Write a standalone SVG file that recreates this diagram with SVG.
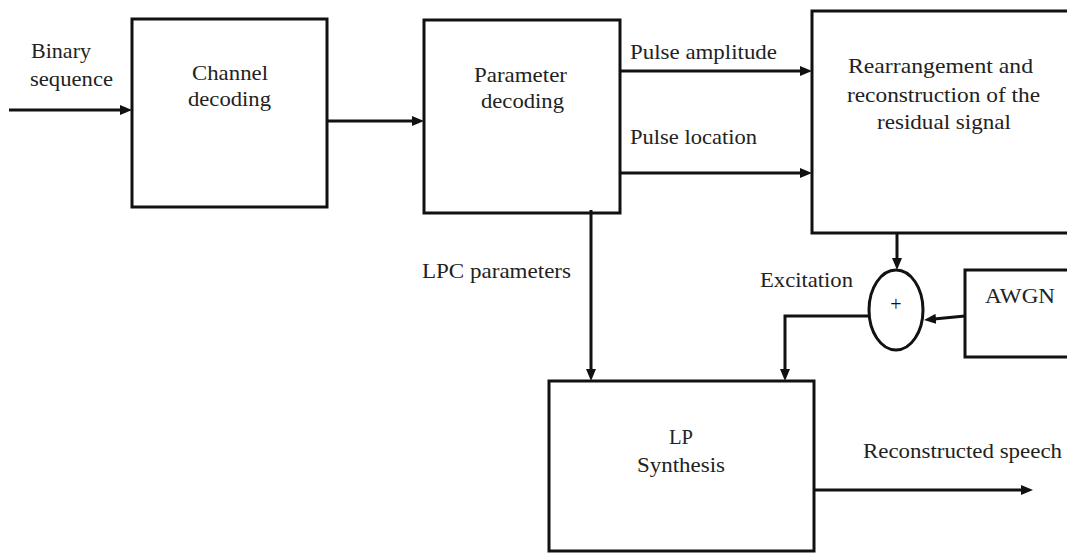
<svg xmlns="http://www.w3.org/2000/svg" width="1067" height="554" viewBox="0 0 1067 554">
<style>
.box{fill:none;stroke:#111;stroke-width:3}
.ln{fill:none;stroke:#111;stroke-width:3}
.arr{marker-end:url(#ah)}
text{font-family:"Liberation Serif","Times New Roman",serif;font-size:22px;fill:#222}
</style>
<defs>
<marker id="ah" viewBox="0 0 12 10" markerWidth="12" markerHeight="10" markerUnits="userSpaceOnUse" refX="2" refY="5" orient="auto">
<path d="M0,0 L12,5 L0,10 z" fill="#111"/>
</marker>
</defs>
<rect width="1067" height="554" fill="#fff"/>
<g id="connectors">
<path class="ln arr" d="M9,110 H122"/>
<path class="ln arr" d="M327,121 H414"/>
<path class="ln arr" d="M620,71 H802"/>
<path class="ln arr" d="M620,173 H802"/>
<path class="ln arr" d="M591,210 V371"/>
<path class="ln arr" d="M897,233 V260"/>
<path class="ln arr" d="M965,316 L934,319"/>
<path class="ln arr" d="M868,316 H785 V371"/>
<path class="ln arr" d="M814,490 H1023"/>
</g>
<g id="labels">
<text x="31" y="58" textLength="60" lengthAdjust="spacingAndGlyphs">Binary</text>
<text x="30" y="86" textLength="83" lengthAdjust="spacingAndGlyphs">sequence</text>
<text x="630" y="59" textLength="147" lengthAdjust="spacingAndGlyphs">Pulse amplitude</text>
<text x="630" y="144" textLength="127" lengthAdjust="spacingAndGlyphs">Pulse location</text>
<text x="422" y="278" textLength="149" lengthAdjust="spacingAndGlyphs">LPC parameters</text>
<text x="760" y="287" textLength="93" lengthAdjust="spacingAndGlyphs">Excitation</text>
<text x="863" y="458" textLength="199" lengthAdjust="spacingAndGlyphs">Reconstructed speech</text>
</g>
<g id="channel-decoding">
<rect class="box" x="132" y="19" width="195" height="188"/>
<text x="192" y="80" textLength="76" lengthAdjust="spacingAndGlyphs">Channel</text>
<text x="188" y="106" textLength="83" lengthAdjust="spacingAndGlyphs">decoding</text>
</g>
<g id="parameter-decoding">
<rect class="box" x="424" y="20" width="196" height="193"/>
<text x="474" y="82" textLength="93" lengthAdjust="spacingAndGlyphs">Parameter</text>
<text x="481" y="108" textLength="83" lengthAdjust="spacingAndGlyphs">decoding</text>
</g>
<g id="rearrangement">
<rect class="box" x="812" y="11" width="265" height="222"/>
<text x="848" y="73" textLength="185" lengthAdjust="spacingAndGlyphs">Rearrangement and</text>
<text x="847" y="102" textLength="193" lengthAdjust="spacingAndGlyphs">reconstruction of the</text>
<text x="877" y="129" textLength="134" lengthAdjust="spacingAndGlyphs">residual signal</text>
</g>
<g id="adder">
<ellipse class="box" cx="896" cy="310" rx="27" ry="40"/>
<text x="896" y="311" text-anchor="middle" style="font-size:20px;fill:#111">+</text>
</g>
<g id="awgn">
<rect class="box" x="965" y="270" width="110" height="87"/>
<text x="985" y="303" textLength="70" lengthAdjust="spacingAndGlyphs">AWGN</text>
</g>
<g id="lp-synthesis">
<rect class="box" x="549" y="381" width="265" height="170"/>
<text x="669" y="444" textLength="24" lengthAdjust="spacingAndGlyphs">LP</text>
<text x="637" y="472" textLength="88" lengthAdjust="spacingAndGlyphs">Synthesis</text>
</g>
</svg>
